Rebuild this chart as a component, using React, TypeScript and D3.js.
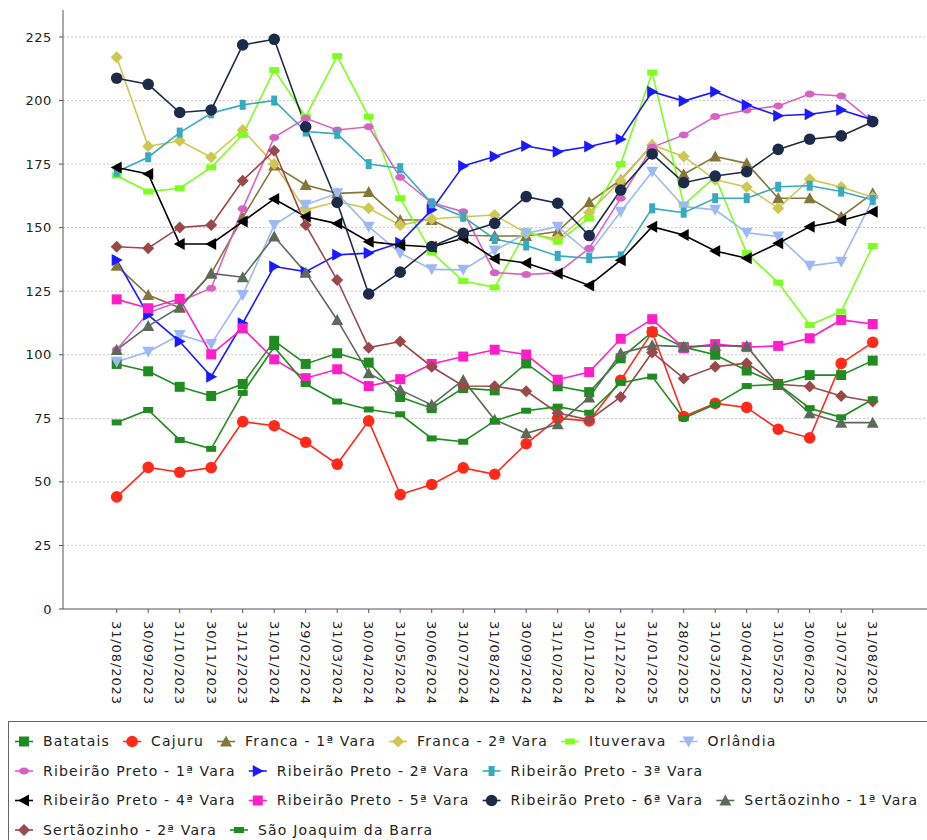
import React from 'react';
import * as d3 from 'd3';

const dates = [
  '31/08/2023', '30/09/2023', '31/10/2023', '30/11/2023', '31/12/2023', '31/01/2024', '29/02/2024',
  '31/03/2024', '30/04/2024', '31/05/2024', '30/06/2024', '31/07/2024', '31/08/2024', '30/09/2024',
  '31/10/2024', '30/11/2024', '31/12/2024', '31/01/2025', '28/02/2025', '31/03/2025', '30/04/2025',
  '31/05/2025', '30/06/2025', '31/07/2025', '31/08/2025',
];

const yTicks = [0, 25, 50, 75, 100, 125, 150, 175, 200, 225];

const batatais = [96.4, 93.5, 87.4, 83.8, 88.5, 105.5, 96.4, 100.6, 96.9, 83.4, 79, 86.9, 86, 96.6, 87.6, 85.3, 98.6, 109, 103, 100, 93.8, 88.5, 92, 92, 97.7];
const cajuru = [44.1, 55.7, 53.8, 55.6, 73.7, 72.1, 65.6, 57, 74, 45, 49, 55.5, 53, 65, 75, 74, 90, 109, 75.7, 80.9, 79.3, 70.7, 67.3, 96.6, 104.9];
const franca1 = [135, 123.5, 118.5, 132, 154, 174.5, 166.8, 163.5, 164, 153, 153, 147, 146.7, 146.7, 148.5, 160, 168.8, 182.5, 171, 178, 175.3, 161.6, 161.6, 154.3, 163.5];
const franca2 = [217, 182, 184.2, 177.7, 188.4, 175, 157, 160.2, 157.6, 151, 153.4, 154.3, 155, 147.8, 145.5, 156, 168.5, 182.5, 178, 168.8, 166, 157.6, 169, 166, 162];
const ituverava = [170.5, 164.2, 165.5, 173.7, 186.5, 212, 193.7, 217.5, 193.7, 161.6, 140.3, 129, 126.5, 148.5, 144.5, 153.7, 175, 211, 159, 170, 140, 128.4, 111.7, 117, 142.8];
const orlandia = [97.3, 101.2, 107.8, 104.2, 123.5, 151, 159, 163.5, 150.4, 140, 133.6, 133.4, 141, 147.8, 150.4, 140, 156.3, 172, 158.3, 157, 148, 146.5, 135, 136.6, 161];
const rp1 = [102, 116.5, 121, 126.2, 157.4, 185.5, 193, 188.4, 189.7, 169.8, 159.8, 156.3, 132.3, 131.6, 132.2, 141.9, 161.6, 181.6, 186.5, 193.7, 196.3, 197.9, 202.6, 201.8, 191.7];
const rp2 = [137.3, 115.7, 105.2, 91.4, 112.4, 134.7, 132.7, 139.3, 140, 144.1, 157, 174.3, 178, 182.1, 179.9, 181.9, 184.8, 203.5, 199.8, 203.5, 198.3, 194, 194.6, 196.3, 192.4];
const rp3 = [172, 177.7, 187.4, 195, 198.3, 200, 187.8, 186.9, 175, 173.4, 159.6, 154.3, 145.5, 143, 138.9, 138, 138.7, 157.6, 155.9, 161.6, 161.6, 166.1, 166.5, 164.2, 160.9];
const rp4 = [173.7, 171.1, 143.6, 143.6, 152.4, 161.3, 154.3, 151.6, 144.5, 143.2, 142.4, 145.8, 137.8, 136.1, 132, 127.3, 137.2, 150.4, 147.1, 140.8, 138, 143.9, 150.4, 152.8, 156.3];
const rp5 = [121.8, 118.3, 122, 100.2, 110.4, 98.2, 90.8, 94.3, 87.7, 90.4, 96.4, 99.3, 102, 100.1, 90.2, 93.2, 106.3, 114, 102.6, 104.2, 103, 103.5, 106.5, 113.7, 112.1];
const rp6 = [208.8, 206.4, 195.3, 196.3, 221.9, 224.1, 189.7, 159.9, 123.9, 132.5, 142.6, 147.8, 151.7, 162.2, 159.6, 146.9, 164.8, 179, 167.7, 170.3, 172, 180.8, 184.8, 186.1, 191.7];
const sert1 = [101.9, 111.3, 118.7, 132, 130.5, 146.5, 132.3, 113.7, 92.7, 86.2, 80.3, 90.1, 74.4, 69.1, 72.7, 83.2, 100.6, 103.7, 103.2, 103.5, 103.5, 88.1, 77, 73.3, 73.3];
const sert2 = [142.5, 141.9, 150.1, 151, 168.5, 180.3, 151, 129.4, 102.8, 105.2, 95.3, 87.7, 87.6, 85.7, 77.1, 74.4, 83.4, 100.9, 90.7, 95.3, 96.7, 88.4, 87.5, 83.8, 81.6];
const saoJoaquim = [73.4, 78.3, 66.5, 63, 85, 103, 88.5, 81.6, 78.5, 76.6, 67.1, 65.8, 74, 78, 79.6, 77.2, 88.9, 91.4, 75, 80.5, 87.7, 88.4, 79, 75.4, 82.5];

const seriesNames = [
  'Batatais', 'Cajuru', 'Franca - 1ª Vara', 'Franca - 2ª Vara', 'Ituverava', 'Orlândia',
  'Ribeirão Preto - 1ª Vara', 'Ribeirão Preto - 2ª Vara', 'Ribeirão Preto - 3ª Vara',
  'Ribeirão Preto - 4ª Vara', 'Ribeirão Preto - 5ª Vara', 'Ribeirão Preto - 6ª Vara',
  'Sertãozinho - 1ª Vara', 'Sertãozinho - 2ª Vara', 'São Joaquim da Barra',
];
const seriesValues = [batatais, cajuru, franca1, franca2, ituverava, orlandia, rp1, rp2, rp3, rp4, rp5, rp6, sert1, sert2, saoJoaquim];

const colors = [
  '#1f8c1f', '#ff2a1a', '#85763a', '#cfc752', '#7dff1f', '#9db8f5',
  '#d862c4', '#1a1aff', '#37a9c0', '#000000', '#ff1fc8', '#1d2b4a',
  '#5a6b5a', '#9a4848', '#1f8c1f',
];
const shapeKinds = ['square', 'circle', 'up', 'diamond', 'hrect', 'down', 'ellipse', 'right', 'vrect', 'left',
  'square', 'circle', 'up', 'diamond', 'hrect'];

const legendRows = [[0, 1, 2, 3, 4, 5], [6, 7, 8], [9, 10, 11, 12], [13, 14]];

const FONT = '"DejaVu Sans", sans-serif';

function Marker({ kind, cx, cy, color }: { kind: string; cx: number; cy: number; color: string }) {
  switch (kind) {
    case 'square':
      return <rect x={cx - 5} y={cy - 5} width={10} height={10} fill={color} />;
    case 'circle':
      return <circle cx={cx} cy={cy} r={5.8} fill={color} />;
    case 'up':
      return <path d={`M${cx},${cy - 6}L${cx + 6},${cy + 5}L${cx - 6},${cy + 5}Z`} fill={color} />;
    case 'down':
      return <path d={`M${cx - 6},${cy - 5}L${cx + 6},${cy - 5}L${cx},${cy + 6}Z`} fill={color} />;
    case 'right':
      return <path d={`M${cx - 5},${cy - 6}L${cx + 6},${cy}L${cx - 5},${cy + 6}Z`} fill={color} />;
    case 'left':
      return <path d={`M${cx + 5},${cy - 6}L${cx - 6},${cy}L${cx + 5},${cy + 6}Z`} fill={color} />;
    case 'diamond':
      return <path d={`M${cx},${cy - 6}L${cx + 6},${cy}L${cx},${cy + 6}L${cx - 6},${cy}Z`} fill={color} />;
    case 'hrect':
      return <rect x={cx - 5} y={cy - 3} width={10} height={6} fill={color} />;
    case 'vrect':
      return <rect x={cx - 3} y={cy - 5} width={6} height={10} fill={color} />;
    case 'ellipse':
      return <ellipse cx={cx} cy={cy} rx={5} ry={3.5} fill={color} />;
    default:
      return null;
  }
}

let measureCtx: CanvasRenderingContext2D | null = null;
function textWidth(s: string, size: number, spacing: number) {
  if (!measureCtx) measureCtx = document.createElement('canvas').getContext('2d');
  if (!measureCtx) return s.length * size * 0.6;
  measureCtx.font = `${size}px "DejaVu Sans"`;
  return measureCtx.measureText(s).width + spacing * s.length;
}

export default function App() {
  const x = d3.scalePoint<string>().domain(dates).range([116.7, 872.7]);
  const y = d3.scaleLinear().domain([0, 225]).range([609, 37]);
  const plotLeft = 63;
  const plotRight = 1000;
  const plotTop = y(235.6);
  const plotBottom = y(0);

  const line = d3.line<number>().x((_, i) => x(dates[i]) as number).y((v) => y(v));

  const legFont = 14;
  const legSpacing = 1.2;
  const legendItems: { idx: number; mx: number; tx: number; ty: number }[] = [];
  const rowY = [741.5, 771, 800.5, 830];
  legendRows.forEach((row, r) => {
    let mx = 24;
    row.forEach((idx) => {
      const tx = mx + 19;
      legendItems.push({ idx, mx, tx, ty: rowY[r] });
      mx = tx + textWidth(seriesNames[idx], legFont, legSpacing) + 22;
    });
  });

  return (
    <svg width={927} height={840} style={{ position: 'absolute', left: 0, top: 0, background: '#fff' }}
      fontFamily={FONT}>
      <rect x={0} y={0} width={927} height={840} fill="#fff" />
      {yTicks.filter((t) => t > 0).map((t) => (
        <line key={t} x1={plotLeft} x2={plotRight} y1={y(t)} y2={y(t)} stroke="#c8c8c8" strokeWidth={1}
          strokeDasharray="2,2" />
      ))}
      <line x1={plotLeft} x2={plotLeft} y1={plotTop} y2={plotBottom} stroke="#555" strokeWidth={1} />
      <line x1={plotLeft} x2={plotRight} y1={plotBottom} y2={plotBottom} stroke="#555" strokeWidth={1} />
      {yTicks.map((t) => (
        <g key={t}>
          <line x1={plotLeft - 4} x2={plotLeft} y1={y(t)} y2={y(t)} stroke="#555" />
          <text x={52} y={y(t)} dy="0.35em" textAnchor="end" fontSize={13} fill="#222" letterSpacing={0.6}>{t}</text>
        </g>
      ))}
      {dates.map((d) => {
        const px = x(d) as number;
        return (
          <g key={d}>
            <line x1={px} x2={px} y1={plotBottom} y2={plotBottom + 4} stroke="#555" />
            <text transform={`translate(${px},${plotBottom + 12}) rotate(90)`} dy="0.35em" fontSize={13}
              fill="#222" letterSpacing={0.9}>{d}</text>
          </g>
        );
      })}
      {seriesValues.map((vals, s) => (
        <path key={s} d={line(vals) || ''} fill="none" stroke={colors[s]} strokeWidth={1.6} />
      ))}
      {seriesValues.map((vals, s) => (
        <g key={s}>
          {vals.map((v, i) => (
            <Marker key={i} kind={shapeKinds[s]} cx={x(dates[i]) as number} cy={y(v)} color={colors[s]} />
          ))}
        </g>
      ))}
      <rect x={8.5} y={721.5} width={1000} height={200} fill="none" stroke="#666" strokeWidth={1} />
      {legendItems.map(({ idx, mx, tx, ty }) => (
        <g key={idx}>
          <line x1={mx - 9} x2={mx + 9} y1={ty} y2={ty} stroke={colors[idx]} strokeWidth={1.6} />
          <Marker kind={shapeKinds[idx]} cx={mx} cy={ty} color={colors[idx]} />
          <text x={tx} y={ty} dy="0.35em" fontSize={legFont} letterSpacing={legSpacing} fill="#222">
            {seriesNames[idx]}
          </text>
        </g>
      ))}
    </svg>
  );
}
